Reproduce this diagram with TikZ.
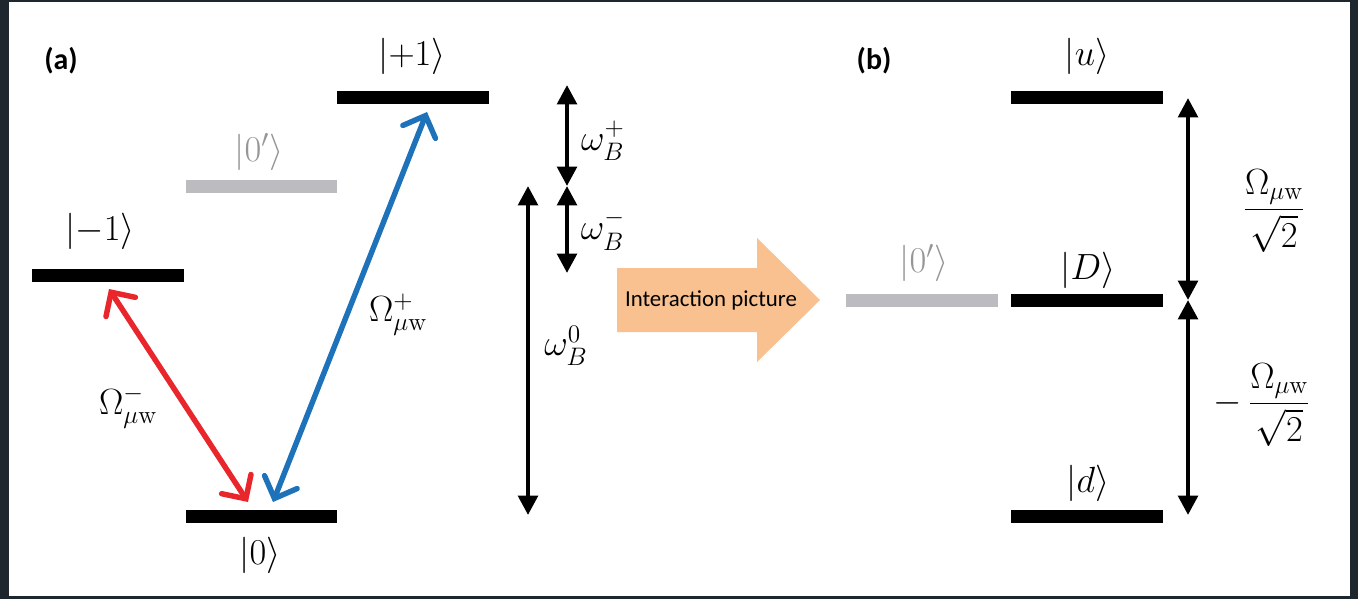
\documentclass[tikz,border=0pt]{standalone}
\usepackage{amsmath}
\usepackage{fontspec}
\newfontfamily\calibri{Carlito}
\usepackage{tikz}
\usetikzlibrary{arrows.meta, positioning, calc}
\definecolor{mwred}{RGB}{232, 38, 44}
\definecolor{mwblue}{RGB}{30, 114, 186}
\definecolor{ipgold}{RGB}{249, 192, 144}
\definecolor{lvlgray}{RGB}{188, 188, 192}
\definecolor{txtgray}{RGB}{150, 150, 150}
\definecolor{frame}{RGB}{30, 38, 46}

\begin{document}
\begin{tikzpicture}[
  x=0.02cm, y=-0.02cm,
  level/.style={fill=black, draw=none, inner sep=0pt, minimum width=3.04cm, minimum height=0.26cm},
  graylevel/.style={level, fill=lvlgray},
  ket/.style={inner sep=0pt, font=\fontsize{20.5}{24}\selectfont},
  graytext/.style={ket, text=txtgray},
  panel/.style={inner sep=0pt, font=\calibri\bfseries\fontsize{17}{19}\selectfont},
  mwarrow/.style={line width=3.1pt, {Straight Barb[length=10pt, width=20pt, line cap=round]}-{Straight Barb[length=10pt, width=20pt, line cap=round]}},
  gaparrow/.style={line width=2.5pt, {Triangle[length=11pt, width=11pt]}-{Triangle[length=11pt, width=11pt]}}
]
  % frame and page
  \useasboundingbox (0,0) rectangle (1358,599);
  \fill[frame] (0,0) rectangle (1358,599);
  \fill[white] (9,2) rectangle (1350,596);

  % (a) bare levels
  \node[panel] (a) at (61,61) {(a)};
  \node[level] (lm1) at (108,275) {};
  \node[graylevel] (lz1) at (261.5,186) {};
  \node[level] (lp1) at (413,97) {};
  \node[level] (lz0) at (261.5,516) {};
  \node[ket] (klm1) at (100,231) {$|{-1}\rangle$};
  \node[graytext] (klz1) at (259,152) {$|0'\rangle$};
  \node[ket] (klp1) at (412,56) {$|{+1}\rangle$};
  \node[ket] (klz0) at (260,555) {$|0\rangle$};

  % microwave transitions
  \coordinate (redtop) at (109,289);
  \coordinate (redbot) at (248,502);
  \coordinate (bluetop) at (427,112);
  \coordinate (bluebot) at (273,502);
  \draw[mwarrow, mwred] (redtop) -- (redbot);
  \draw[mwarrow, mwblue] (bluebot) -- (bluetop);
  \node[ket] (omm) at (128,407) {$\Omega^{-}_{\mu\mathrm{w}}$};
  \node[ket] (omp) at (398,315) {$\Omega^{+}_{\mu\mathrm{w}}$};

  % splittings
  \coordinate (wtop) at (567,85);
  \coordinate (wmid) at (567,186);
  \coordinate (wbot) at (567,273);
  \coordinate (wztop) at (528,186);
  \coordinate (wzbot) at (528,515);
  \draw[gaparrow] (wtop) -- (wmid);
  \draw[gaparrow] (wmid) -- (wbot);
  \draw[gaparrow] (wztop) -- (wzbot);
  \node[ket] (wbp) at (603,141) {$\omega_B^{+}$};
  \node[ket] (wbm) at (603,230) {$\omega_B^{-}$};
  \node[ket] (wbz) at (566,346) {$\omega_B^{0}$};

  % interaction picture arrow
  \fill[ipgold] (617,268) -- (757,268) -- (757,238) -- (820,300)
    -- (757,362) -- (757,332) -- (617,332) -- cycle;
  \node[inner sep=0pt, font=\calibri\fontsize{13}{15}\selectfont] (ip) at (711,300) {Interaction picture};

  % (b) dressed levels
  \node[panel] (b) at (874,61) {(b)};
  \node[graylevel] (lz1b) at (922,300) {};
  \node[level] (lu) at (1086.5,97) {};
  \node[level] (lD) at (1086.5,300) {};
  \node[level] (ld) at (1086.5,516) {};
  \node[graytext] (klz1b) at (924,263) {$|0'\rangle$};
  \node[ket] (klu) at (1087,56) {$|u\rangle$};
  \node[ket] (klD) at (1088,270) {$|D\rangle$};
  \node[ket] (kld) at (1088,483) {$|d\rangle$};

  \coordinate (otop) at (1188,98);
  \coordinate (omid) at (1188,300);
  \coordinate (obot) at (1188,515);
  \draw[gaparrow] (otop) -- (omid);
  \draw[gaparrow] (omid) -- (obot);
  \node[ket] (oup) at (1274,211) {$\dfrac{\Omega_{\mu\mathrm{w}}}{\sqrt{2}}$};
  \node[ket] (odn) at (1262,405) {$-\,\dfrac{\Omega_{\mu\mathrm{w}}}{\sqrt{2}}$};
\end{tikzpicture}
\end{document}
